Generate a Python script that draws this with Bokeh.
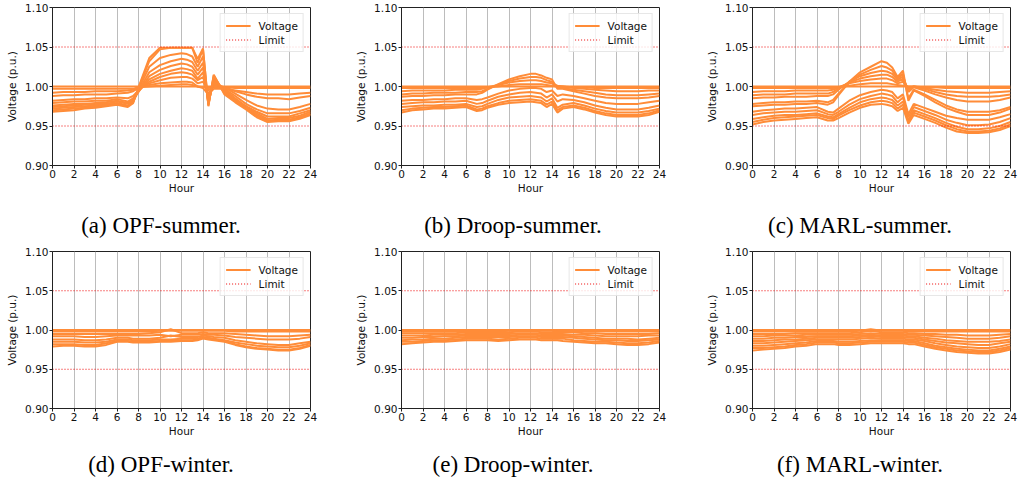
from bokeh.plotting import figure
from bokeh.models import FixedTicker, Legend, LegendItem, NumeralTickFormatter, Div
from bokeh.layouts import column, row
from bokeh.embed import file_html
from bokeh.resources import INLINE

# ---------------- data ----------------
HOURS = [0, 1, 2, 3, 4, 5, 6, 7,
         7.5, 8, 9, 10, 11, 12, 12.5, 13, 13.5, 14,
         14.5, 15, 16, 17, 18, 19, 20, 21, 22, 23, 24]

X_TICKS = [0, 2, 4, 6, 8, 10, 12, 14, 16, 18, 20, 22, 24]
Y_TICKS = [0.90, 0.95, 1.00, 1.05, 1.10]
Y_TICK_LABELS = ["0.90", "0.95", "1.00", "1.05", "1.10"]
LIMITS = [0.95, 1.05]
SERIES_LABEL = "Voltage"
LIMIT_LABEL = "Limit"
X_LABEL = "Hour"
Y_LABEL = "Voltage (p.u.)"
CAPTIONS = ["(a) OPF-summer.", "(b) Droop-summer.", "(c) MARL-summer.",
            "(d) OPF-winter.", "(e) Droop-winter.", "(f) MARL-winter."]

OPF_SUMMER = [
    [1.000, 1.000, 1.000, 1.000, 1.000, 1.000, 1.000, 1.000,
     1.000, 1.000, 1.000, 1.000, 1.000, 1.000, 1.000, 1.000, 1.000, 1.000,
     1.000, 1.000, 1.000, 1.000, 1.000, 1.000, 1.000, 1.000, 1.000, 1.000, 1.000],
    [0.997, 0.997, 0.997, 0.997, 0.997, 0.997, 0.997, 0.997,
     0.997, 0.999, 1.000, 1.001, 1.002, 1.003, 1.003, 1.002, 1.000, 0.999,
     0.998, 0.999, 0.999, 0.998, 0.998, 0.998, 0.998, 0.998, 0.998, 0.998, 0.998],
    [0.992, 0.993, 0.993, 0.993, 0.994, 0.994, 0.994, 0.995,
     0.996, 0.999, 1.002, 1.004, 1.005, 1.006, 1.006, 1.005, 1.000, 0.998,
     0.990, 0.997, 0.997, 0.995, 0.993, 0.991, 0.990, 0.990, 0.990, 0.991, 0.992],
    [0.988, 0.989, 0.989, 0.990, 0.990, 0.990, 0.991, 0.992,
     0.994, 0.998, 1.004, 1.008, 1.011, 1.012, 1.012, 1.010, 1.004, 1.006,
     0.995, 1.001, 0.999, 0.994, 0.990, 0.987, 0.985, 0.985, 0.984, 0.986, 0.988],
    [0.982, 0.983, 0.984, 0.984, 0.985, 0.985, 0.986, 0.985,
     0.988, 0.995, 1.006, 1.012, 1.016, 1.018, 1.017, 1.015, 1.008, 1.012,
     0.990, 1.003, 0.999, 0.991, 0.983, 0.976, 0.972, 0.971, 0.971, 0.974, 0.978],
    [0.979, 0.980, 0.981, 0.981, 0.982, 0.982, 0.984, 0.981,
     0.985, 0.994, 1.009, 1.016, 1.020, 1.023, 1.022, 1.020, 1.010, 1.018,
     0.985, 1.005, 0.997, 0.988, 0.978, 0.971, 0.966, 0.966, 0.966, 0.969, 0.973],
    [0.976, 0.977, 0.978, 0.978, 0.979, 0.980, 0.982, 0.979,
     0.983, 0.993, 1.013, 1.021, 1.026, 1.029, 1.028, 1.025, 1.015, 1.024,
     0.980, 1.008, 0.996, 0.985, 0.975, 0.968, 0.962, 0.962, 0.962, 0.966, 0.970],
    [0.974, 0.975, 0.976, 0.977, 0.978, 0.978, 0.981, 0.978,
     0.982, 0.994, 1.018, 1.027, 1.032, 1.035, 1.034, 1.031, 1.020, 1.030,
     0.978, 1.010, 0.994, 0.983, 0.974, 0.966, 0.959, 0.960, 0.960, 0.963, 0.968],
    [0.972, 0.973, 0.974, 0.975, 0.976, 0.977, 0.979, 0.976,
     0.981, 0.996, 1.025, 1.036, 1.040, 1.042, 1.041, 1.038, 1.025, 1.038,
     0.977, 1.012, 0.993, 0.982, 0.973, 0.964, 0.957, 0.958, 0.958, 0.961, 0.966],
    [0.970, 0.971, 0.972, 0.973, 0.975, 0.976, 0.978, 0.975,
     0.980, 0.998, 1.032, 1.047, 1.049, 1.049, 1.049, 1.049, 1.030, 1.047,
     0.976, 1.014, 0.991, 0.981, 0.972, 0.962, 0.956, 0.957, 0.957, 0.960, 0.965],
    [0.968, 0.969, 0.970, 0.972, 0.973, 0.975, 0.977, 0.974,
     0.979, 0.999, 1.036, 1.049, 1.049, 1.049, 1.049, 1.049, 1.035, 1.048,
     0.975, 1.015, 0.990, 0.980, 0.971, 0.961, 0.955, 0.956, 0.956, 0.959, 0.964],
]

DROOP_SUMMER = [
    [1.000, 1.000, 1.000, 1.000, 1.000, 1.000, 1.000, 1.000,
     1.000, 1.000, 1.000, 1.000, 1.000, 1.000, 1.000, 1.000, 1.000, 1.000,
     1.000, 1.000, 1.000, 1.000, 1.000, 1.000, 1.000, 1.000, 1.000, 1.000, 1.000],
    [0.998, 0.998, 0.998, 0.998, 0.998, 0.998, 0.998, 0.998,
     0.998, 0.999, 1.000, 1.002, 1.003, 1.003, 1.003, 1.003, 1.002, 1.001,
     1.000, 1.000, 0.999, 0.999, 0.998, 0.998, 0.998, 0.998, 0.998, 0.998, 0.998],
    [0.994, 0.995, 0.995, 0.995, 0.995, 0.996, 0.996, 0.996,
     0.997, 0.999, 1.002, 1.005, 1.007, 1.008, 1.008, 1.007, 1.005, 1.004,
     1.001, 1.000, 0.998, 0.997, 0.996, 0.995, 0.994, 0.994, 0.994, 0.995, 0.995],
    [0.990, 0.991, 0.991, 0.992, 0.992, 0.992, 0.993, 0.993,
     0.994, 0.997, 1.002, 1.007, 1.010, 1.012, 1.012, 1.011, 1.008, 1.006,
     0.999, 0.998, 0.996, 0.994, 0.992, 0.990, 0.989, 0.989, 0.989, 0.990, 0.991],
    [0.987, 0.988, 0.988, 0.989, 0.989, 0.990, 0.990, 0.990,
     0.992, 0.996, 1.003, 1.009, 1.013, 1.016, 1.016, 1.014, 1.011, 1.009,
     0.997, 0.997, 0.994, 0.991, 0.988, 0.986, 0.985, 0.985, 0.985, 0.986, 0.988],
    [0.982, 0.983, 0.983, 0.984, 0.984, 0.985, 0.985, 0.983,
     0.984, 0.986, 0.991, 0.995, 0.997, 0.998, 0.998, 0.997, 0.993, 0.995,
     0.988, 0.990, 0.988, 0.985, 0.982, 0.979, 0.978, 0.978, 0.978, 0.980, 0.982],
    [0.978, 0.979, 0.980, 0.980, 0.981, 0.981, 0.982, 0.978,
     0.979, 0.982, 0.987, 0.990, 0.992, 0.993, 0.992, 0.991, 0.986, 0.990,
     0.981, 0.984, 0.983, 0.980, 0.976, 0.973, 0.971, 0.971, 0.971, 0.973, 0.976],
    [0.974, 0.975, 0.976, 0.976, 0.977, 0.977, 0.978, 0.974,
     0.975, 0.978, 0.983, 0.986, 0.987, 0.988, 0.987, 0.986, 0.981, 0.985,
     0.973, 0.977, 0.979, 0.976, 0.972, 0.969, 0.967, 0.967, 0.967, 0.969, 0.972],
    [0.970, 0.972, 0.973, 0.974, 0.974, 0.975, 0.976, 0.971,
     0.972, 0.975, 0.979, 0.982, 0.983, 0.984, 0.983, 0.982, 0.977, 0.981,
     0.970, 0.974, 0.976, 0.973, 0.969, 0.966, 0.964, 0.964, 0.964, 0.966, 0.970],
    [0.967, 0.970, 0.971, 0.972, 0.972, 0.973, 0.974, 0.969,
     0.970, 0.973, 0.977, 0.979, 0.980, 0.981, 0.980, 0.979, 0.974, 0.978,
     0.967, 0.972, 0.974, 0.971, 0.967, 0.964, 0.962, 0.962, 0.962, 0.964, 0.968],
]

MARL_SUMMER = [
    [1.000, 1.000, 1.000, 1.000, 1.000, 1.000, 1.000, 1.000,
     1.000, 1.000, 1.000, 1.000, 1.000, 1.000, 1.000, 1.000, 1.000, 1.000,
     1.000, 1.000, 1.000, 1.000, 1.000, 1.000, 1.000, 1.000, 1.000, 1.000, 1.000],
    [0.998, 0.998, 0.998, 0.998, 0.998, 0.998, 0.998, 0.998,
     0.998, 0.999, 1.001, 1.003, 1.004, 1.004, 1.004, 1.003, 1.002, 1.001,
     1.000, 1.000, 0.999, 0.999, 0.998, 0.998, 0.998, 0.998, 0.998, 0.998, 0.998],
    [0.993, 0.994, 0.994, 0.994, 0.995, 0.995, 0.995, 0.995,
     0.996, 0.999, 1.004, 1.007, 1.009, 1.010, 1.010, 1.008, 1.004, 1.006,
     0.998, 1.000, 0.998, 0.996, 0.994, 0.993, 0.992, 0.992, 0.992, 0.993, 0.994],
    [0.989, 0.990, 0.990, 0.990, 0.991, 0.991, 0.991, 0.991,
     0.993, 0.998, 1.005, 1.010, 1.013, 1.015, 1.015, 1.012, 1.006, 1.010,
     0.996, 1.000, 0.997, 0.993, 0.990, 0.988, 0.987, 0.987, 0.987, 0.988, 0.990],
    [0.985, 0.986, 0.986, 0.987, 0.987, 0.987, 0.988, 0.988,
     0.990, 0.996, 1.006, 1.013, 1.017, 1.020, 1.019, 1.016, 1.008, 1.013,
     0.993, 0.999, 0.995, 0.990, 0.986, 0.983, 0.981, 0.981, 0.981, 0.983, 0.986],
    [0.978, 0.979, 0.980, 0.980, 0.981, 0.981, 0.982, 0.980,
     0.983, 0.991, 1.005, 1.015, 1.021, 1.026, 1.024, 1.020, 1.010, 1.016,
     0.985, 0.996, 0.990, 0.983, 0.976, 0.971, 0.968, 0.968, 0.968, 0.970, 0.974],
    [0.975, 0.976, 0.977, 0.977, 0.978, 0.978, 0.979, 0.977,
     0.980, 0.989, 1.006, 1.018, 1.025, 1.032, 1.030, 1.024, 1.012, 1.020,
     0.982, 0.995, 0.988, 0.980, 0.973, 0.968, 0.964, 0.964, 0.964, 0.967, 0.972],
    [0.968, 0.970, 0.971, 0.972, 0.972, 0.973, 0.974, 0.968,
     0.967, 0.972, 0.982, 0.989, 0.993, 0.996, 0.995, 0.993, 0.985, 0.990,
     0.965, 0.978, 0.973, 0.968, 0.963, 0.960, 0.958, 0.958, 0.958, 0.961, 0.965],
    [0.964, 0.966, 0.967, 0.968, 0.968, 0.969, 0.970, 0.965,
     0.964, 0.968, 0.977, 0.984, 0.988, 0.991, 0.990, 0.988, 0.980, 0.986,
     0.961, 0.974, 0.969, 0.964, 0.958, 0.954, 0.951, 0.951, 0.952, 0.955, 0.960],
    [0.959, 0.961, 0.963, 0.964, 0.964, 0.965, 0.966, 0.962,
     0.961, 0.965, 0.973, 0.980, 0.984, 0.986, 0.985, 0.983, 0.976, 0.981,
     0.957, 0.970, 0.965, 0.960, 0.954, 0.949, 0.946, 0.946, 0.947, 0.950, 0.955],
    [0.955, 0.958, 0.960, 0.961, 0.962, 0.963, 0.964, 0.960,
     0.959, 0.963, 0.970, 0.976, 0.980, 0.982, 0.981, 0.979, 0.972, 0.977,
     0.955, 0.967, 0.962, 0.957, 0.951, 0.946, 0.943, 0.943, 0.944, 0.947, 0.952],
    [0.952, 0.955, 0.957, 0.958, 0.959, 0.960, 0.961, 0.957,
     0.957, 0.960, 0.967, 0.973, 0.977, 0.978, 0.977, 0.975, 0.969, 0.973,
     0.953, 0.964, 0.959, 0.954, 0.948, 0.943, 0.941, 0.941, 0.942, 0.945, 0.950],
]

OPF_WINTER = [
    [1.000, 1.000, 1.000, 1.000, 1.000, 1.000, 1.000, 1.000,
     1.000, 1.000, 1.000, 1.000, 1.000, 1.000, 1.000, 1.000, 1.000, 1.000,
     1.000, 1.000, 1.000, 1.000, 1.000, 1.000, 1.000, 1.000, 1.000, 1.000, 1.000],
    [0.998, 0.998, 0.998, 0.998, 0.998, 0.998, 0.998, 0.998,
     0.998, 0.998, 0.998, 0.999, 0.999, 0.999, 0.999, 0.999, 0.999, 0.999,
     0.999, 0.999, 0.999, 0.998, 0.998, 0.998, 0.998, 0.998, 0.998, 0.998, 0.998],
    [0.995, 0.995, 0.995, 0.995, 0.995, 0.995, 0.995, 0.995,
     0.995, 0.995, 0.996, 0.997, 1.001, 0.996, 0.996, 0.996, 0.996, 0.997,
     0.996, 0.996, 0.996, 0.995, 0.994, 0.993, 0.992, 0.992, 0.992, 0.993, 0.994],
    [0.992, 0.992, 0.992, 0.991, 0.991, 0.992, 0.993, 0.993,
     0.993, 0.993, 0.993, 0.994, 0.992, 0.994, 0.994, 0.994, 0.994, 0.995,
     0.994, 0.994, 0.993, 0.991, 0.990, 0.989, 0.988, 0.988, 0.988, 0.989, 0.991],
    [0.988, 0.988, 0.988, 0.987, 0.987, 0.988, 0.990, 0.990,
     0.989, 0.989, 0.989, 0.990, 0.993, 0.991, 0.991, 0.991, 0.991, 0.993,
     0.992, 0.991, 0.990, 0.987, 0.985, 0.983, 0.982, 0.981, 0.981, 0.983, 0.985],
    [0.985, 0.985, 0.985, 0.984, 0.984, 0.985, 0.988, 0.988,
     0.987, 0.987, 0.987, 0.988, 0.988, 0.989, 0.989, 0.989, 0.989, 0.991,
     0.990, 0.989, 0.987, 0.984, 0.982, 0.980, 0.979, 0.978, 0.978, 0.980, 0.983],
    [0.982, 0.982, 0.982, 0.981, 0.981, 0.983, 0.986, 0.986,
     0.985, 0.985, 0.985, 0.986, 0.986, 0.987, 0.987, 0.987, 0.988, 0.990,
     0.989, 0.988, 0.986, 0.982, 0.979, 0.977, 0.976, 0.975, 0.975, 0.977, 0.981],
    [0.979, 0.980, 0.980, 0.979, 0.979, 0.981, 0.985, 0.985,
     0.984, 0.984, 0.984, 0.985, 0.985, 0.986, 0.986, 0.986, 0.987, 0.989,
     0.988, 0.987, 0.985, 0.981, 0.978, 0.976, 0.975, 0.974, 0.974, 0.976, 0.980],
]

DROOP_WINTER = [
    [1.000, 1.000, 1.000, 1.000, 1.000, 1.000, 1.000, 1.000,
     1.000, 1.000, 1.000, 1.000, 1.000, 1.000, 1.000, 1.000, 1.000, 1.000,
     1.000, 1.000, 1.000, 1.000, 1.000, 1.000, 1.000, 1.000, 1.000, 1.000, 1.000],
    [0.998, 0.998, 0.998, 0.998, 0.998, 0.998, 0.998, 0.998,
     0.998, 0.998, 0.998, 0.999, 0.999, 0.999, 0.999, 0.999, 0.999, 0.999,
     0.998, 0.998, 0.998, 0.998, 0.998, 0.998, 0.998, 0.998, 0.998, 0.998, 0.998],
    [0.996, 0.996, 0.996, 0.996, 0.996, 0.996, 0.997, 0.997,
     0.997, 0.997, 0.997, 0.997, 0.998, 0.998, 0.998, 0.997, 0.997, 0.997,
     0.997, 0.997, 0.997, 0.996, 0.996, 0.995, 0.995, 0.995, 0.995, 0.995, 0.996],
    [0.993, 0.993, 0.993, 0.994, 0.994, 0.994, 0.995, 0.995,
     0.995, 0.995, 0.995, 0.995, 0.996, 0.996, 0.996, 0.995, 0.995, 0.995,
     0.995, 0.995, 0.994, 0.994, 0.993, 0.992, 0.992, 0.992, 0.992, 0.993, 0.993],
    [0.990, 0.990, 0.991, 0.991, 0.992, 0.992, 0.993, 0.993,
     0.993, 0.993, 0.993, 0.993, 0.994, 0.994, 0.994, 0.993, 0.993, 0.993,
     0.993, 0.993, 0.992, 0.991, 0.990, 0.989, 0.989, 0.989, 0.988, 0.989, 0.990],
    [0.987, 0.988, 0.988, 0.989, 0.989, 0.990, 0.991, 0.991,
     0.991, 0.991, 0.991, 0.991, 0.992, 0.992, 0.992, 0.991, 0.991, 0.991,
     0.991, 0.991, 0.990, 0.989, 0.988, 0.987, 0.987, 0.986, 0.986, 0.987, 0.988],
    [0.985, 0.985, 0.986, 0.987, 0.987, 0.988, 0.989, 0.989,
     0.989, 0.989, 0.988, 0.989, 0.990, 0.990, 0.990, 0.989, 0.989, 0.989,
     0.989, 0.989, 0.987, 0.986, 0.985, 0.985, 0.984, 0.983, 0.983, 0.984, 0.986],
    [0.982, 0.983, 0.984, 0.985, 0.985, 0.986, 0.987, 0.987,
     0.987, 0.987, 0.986, 0.987, 0.988, 0.988, 0.988, 0.987, 0.987, 0.987,
     0.987, 0.986, 0.985, 0.984, 0.983, 0.983, 0.982, 0.981, 0.981, 0.982, 0.984],
]

MARL_WINTER = [
    [1.000, 1.000, 1.000, 1.000, 1.000, 1.000, 1.000, 1.000,
     1.000, 1.000, 1.000, 1.000, 1.000, 1.000, 1.000, 1.000, 1.000, 1.000,
     1.000, 1.000, 1.000, 1.000, 1.000, 1.000, 1.000, 1.000, 1.000, 1.000, 1.000],
    [0.998, 0.998, 0.998, 0.998, 0.998, 0.998, 0.998, 0.998,
     0.998, 0.998, 0.998, 0.999, 1.001, 0.999, 0.999, 0.999, 0.999, 0.999,
     0.998, 0.998, 0.998, 0.998, 0.998, 0.998, 0.998, 0.998, 0.998, 0.998, 0.998],
    [0.995, 0.995, 0.995, 0.995, 0.996, 0.996, 0.996, 0.996,
     0.996, 0.996, 0.996, 0.997, 0.999, 0.997, 0.997, 0.997, 0.997, 0.997,
     0.996, 0.996, 0.995, 0.995, 0.994, 0.994, 0.993, 0.993, 0.993, 0.994, 0.995],
    [0.992, 0.992, 0.993, 0.993, 0.993, 0.994, 0.994, 0.994,
     0.994, 0.994, 0.994, 0.995, 0.996, 0.995, 0.995, 0.995, 0.995, 0.995,
     0.994, 0.994, 0.993, 0.992, 0.991, 0.990, 0.989, 0.989, 0.989, 0.990, 0.992],
    [0.989, 0.989, 0.990, 0.990, 0.991, 0.991, 0.992, 0.992,
     0.992, 0.992, 0.992, 0.993, 0.994, 0.993, 0.993, 0.993, 0.993, 0.993,
     0.992, 0.992, 0.990, 0.989, 0.987, 0.986, 0.985, 0.985, 0.985, 0.986, 0.988],
    [0.986, 0.986, 0.987, 0.988, 0.988, 0.989, 0.990, 0.990,
     0.990, 0.990, 0.990, 0.991, 0.992, 0.991, 0.991, 0.991, 0.991, 0.991,
     0.990, 0.990, 0.988, 0.986, 0.984, 0.983, 0.982, 0.981, 0.981, 0.983, 0.985],
    [0.983, 0.983, 0.984, 0.985, 0.986, 0.987, 0.988, 0.988,
     0.988, 0.988, 0.988, 0.989, 0.990, 0.989, 0.989, 0.989, 0.989, 0.989,
     0.988, 0.988, 0.986, 0.983, 0.981, 0.979, 0.978, 0.977, 0.977, 0.979, 0.982],
    [0.980, 0.980, 0.981, 0.982, 0.983, 0.984, 0.986, 0.986,
     0.986, 0.985, 0.985, 0.986, 0.987, 0.987, 0.987, 0.987, 0.987, 0.987,
     0.986, 0.986, 0.983, 0.980, 0.978, 0.976, 0.975, 0.974, 0.974, 0.976, 0.979],
    [0.977, 0.977, 0.978, 0.979, 0.981, 0.982, 0.984, 0.984,
     0.984, 0.983, 0.983, 0.984, 0.985, 0.985, 0.985, 0.985, 0.985, 0.985,
     0.984, 0.984, 0.981, 0.978, 0.976, 0.974, 0.973, 0.972, 0.972, 0.974, 0.977],
    [0.974, 0.975, 0.976, 0.977, 0.979, 0.980, 0.982, 0.982,
     0.982, 0.981, 0.981, 0.982, 0.983, 0.983, 0.983, 0.983, 0.983, 0.983,
     0.982, 0.982, 0.979, 0.976, 0.974, 0.972, 0.971, 0.970, 0.970, 0.972, 0.975],
]

PANELS = [OPF_SUMMER, DROOP_SUMMER, MARL_SUMMER, OPF_WINTER, DROOP_WINTER, MARL_WINTER]

for panel in PANELS:
    for s in panel:
        assert len(s) == len(HOURS), len(s)

# ---------------- styling / layout ----------------
ORANGE = "#ff8c38"
LIMIT_COLOR = "#ee0000"
TEXT = "#111111"
FONT = "DejaVu Sans"
WIDTHS = [349, 351, 319]
RIGHT_BORDERS = [39, 41, 9]
LEFT_BORDER = 52
FIG_HEIGHTS = [197, 194]
TOP_BORDERS = [7, 5]
BOTTOM_BORDER = 32
CAPTION_HEIGHTS = [49, 46]
CAPTION_PAD = [15, 11]
CAPTION_CENTERS = [161, 164, 160]


def make_panel(i):
    r, c = divmod(i, 3)
    p = figure(width=WIDTHS[c], height=FIG_HEIGHTS[r],
               x_range=(X_TICKS[0], X_TICKS[-1]), y_range=(Y_TICKS[0], Y_TICKS[-1]),
               output_backend="svg", toolbar_location=None,
               min_border_left=LEFT_BORDER, min_border_right=RIGHT_BORDERS[c],
               min_border_top=TOP_BORDERS[r], min_border_bottom=BOTTOM_BORDER)
    p.background_fill_color = "white"
    p.border_fill_color = "white"
    p.outline_line_color = "#222222"
    p.outline_line_width = 1

    p.xgrid.ticker = FixedTicker(ticks=X_TICKS)
    p.xgrid.grid_line_color = "#bcbcbc"
    p.xgrid.grid_line_width = 1
    p.ygrid.visible = False

    first = None
    for s in PANELS[i]:
        rr = p.line(HOURS, s, line_color=ORANGE, line_width=2)
        if first is None:
            first = rr
    lim_r = None
    for lim in LIMITS:
        lr = p.line([X_TICKS[0], X_TICKS[-1]], [lim, lim], line_color=LIMIT_COLOR,
                    line_dash="1 2", line_width=1)
        if lim_r is None:
            lim_r = lr

    p.xaxis.ticker = FixedTicker(ticks=X_TICKS)
    p.yaxis.ticker = FixedTicker(ticks=Y_TICKS)
    p.yaxis.formatter = NumeralTickFormatter(format="0.00")
    p.yaxis.major_label_overrides = dict(zip(Y_TICKS, Y_TICK_LABELS))
    p.xaxis.axis_label = X_LABEL
    p.yaxis.axis_label = Y_LABEL
    for ax in (p.xaxis[0], p.yaxis[0]):
        ax.major_label_text_font = FONT
        ax.major_label_text_font_size = "10.5px"
        ax.major_label_text_color = TEXT
        ax.axis_label_text_font = FONT
        ax.axis_label_text_font_size = "10.5px"
        ax.axis_label_text_font_style = "normal"
        ax.axis_label_text_color = TEXT
        ax.major_tick_in = 0
        ax.major_tick_out = 3
        ax.minor_tick_in = 0
        ax.minor_tick_out = 0
        ax.axis_line_color = "#222222"
        ax.major_tick_line_color = "#222222"
        ax.major_label_standoff = 1
    p.xaxis.axis_label_standoff = 1
    p.yaxis.axis_label_standoff = 4

    legend = Legend(items=[LegendItem(label=SERIES_LABEL, renderers=[first]),
                           LegendItem(label=LIMIT_LABEL, renderers=[lim_r])],
                    location="top_right", label_text_font=FONT,
                    label_text_font_size="10.5px", label_text_color=TEXT,
                    glyph_width=25, glyph_height=13, label_height=13,
                    spacing=1, padding=5, margin=6, label_standoff=8,
                    border_line_color="#d0d0d0", border_line_width=1,
                    background_fill_color="white", background_fill_alpha=0.8)
    p.add_layout(legend)
    return p


def make_caption(i):
    r, c = divmod(i, 3)
    w = 2 * CAPTION_CENTERS[c]
    html = ('<div style="width:%dpx;text-align:center;padding-top:%dpx;'
            'font-family:\'Liberation Serif\',\'Times New Roman\',serif;font-size:23px;'
            'line-height:27px;color:#000;white-space:nowrap;">%s</div>'
            % (w, CAPTION_PAD[r], CAPTIONS[i]))
    return Div(text=html, width=WIDTHS[c], height=CAPTION_HEIGHTS[r], margin=(0, 0, 0, 0))


figs = [make_panel(i) for i in range(6)]
caps = [make_caption(i) for i in range(6)]
layout = column(row(*figs[:3]), row(*caps[:3]), row(*figs[3:]), row(*caps[3:]))

open("out.html", "w").write(file_html(layout, INLINE))
